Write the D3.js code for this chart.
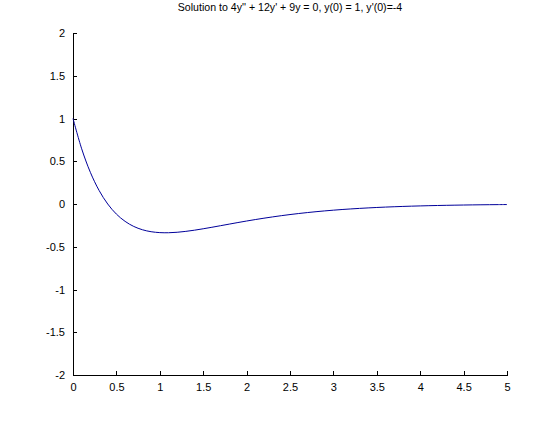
<!DOCTYPE html>
<html><head><meta charset="utf-8">
<script src="https://cdn.jsdelivr.net/npm/d3@7"></script>
<style>body{margin:0;background:#fff}svg{display:block}text{font-family:"Liberation Sans",Arial,sans-serif}</style>
</head><body><svg id="c" width="560" height="421"></svg>
<script>
const title = "Solution to 4y'' + 12y' + 9y = 0, y(0) = 1, y'(0)=-4";
const tValues = [0,0.1,0.2,0.3,0.4,0.5,0.6,0.7,0.8,0.9,1.0,1.1,1.2,1.3,1.4,1.5,1.6,1.7,1.8,1.9,2.0,2.1,2.2,2.3,2.4,2.5,2.6,2.7,2.8,2.9,3.0,3.1,3.2,3.3,3.4,3.5,3.6,3.7,3.8,3.9,4.0,4.1,4.2,4.3,4.4,4.5,4.6,4.7,4.8,4.9,5.0];
const yValues = [1,0.6455,0.3704,0.1594,0,-0.1181,-0.2030,-0.2625,-0.3012,-0.3241,-0.3347,-0.3361,-0.3306,-0.3201,-0.3061,-0.2898,-0.2722,-0.2538,-0.2352,-0.2169,-0.1991,-0.1821,-0.1660,-0.1508,-0.1366,-0.1235,-0.1113,-0.1002,-0.0900,-0.0807,-0.0722,-0.0645,-0.0576,-0.0514,-0.0457,-0.0407,-0.0361,-0.0321,-0.0284,-0.0252,-0.0223,-0.0197,-0.0174,-0.0154,-0.0136,-0.0120,-0.0106,-0.0093,-0.0082,-0.0072,-0.0064];
const xTicks = [0,0.5,1,1.5,2,2.5,3,3.5,4,4.5,5];
const xTickLabels = ["0","0.5","1","1.5","2","2.5","3","3.5","4","4.5","5"];
const yTicks = [-2,-1.5,-1,-0.5,0,0.5,1,1.5,2];
const yTickLabels = ["-2","-1.5","-1","-0.5","0","0.5","1","1.5","2"];

const svg = d3.select("#c");
const L = 73, R = 507, T = 33, B = 375;
const x = d3.scaleLinear().domain([0,5]).range([L,R]);
const y = d3.scaleLinear().domain([-2,2]).range([B,T]);

const xAxis = d3.axisBottom(x).tickValues(xTicks).tickFormat((d,i)=>xTickLabels[i]).tickSizeInner(-4).tickSizeOuter(0).tickPadding(8);
const yAxis = d3.axisLeft(y).tickValues(yTicks).tickFormat((d,i)=>yTickLabels[i]).tickSizeInner(-4).tickSizeOuter(0).tickPadding(8);

const gx = svg.append("g").attr("transform",`translate(0,${B})`).call(xAxis);
const gy = svg.append("g").attr("transform",`translate(${L},0)`).call(yAxis);
[gx,gy].forEach(g=>{
  g.selectAll("path,line").attr("stroke","#000").attr("stroke-width",1).attr("shape-rendering","crispEdges");
  g.selectAll("text").attr("font-size",11).attr("fill","#000");
});

const data = tValues.map((t,i)=>[t,yValues[i]]);
svg.append("path").datum(data)
  .attr("fill","none").attr("stroke","#00009a").attr("stroke-width",1)
  .attr("d", d3.line().x(d=>x(d[0])).y(d=>y(d[1])).curve(d3.curveCatmullRom));

svg.append("text").attr("x",(L+R)/2).attr("y",11).attr("text-anchor","middle")
  .attr("font-size",10.6).attr("fill","#000").text(title);
</script></body></html>
